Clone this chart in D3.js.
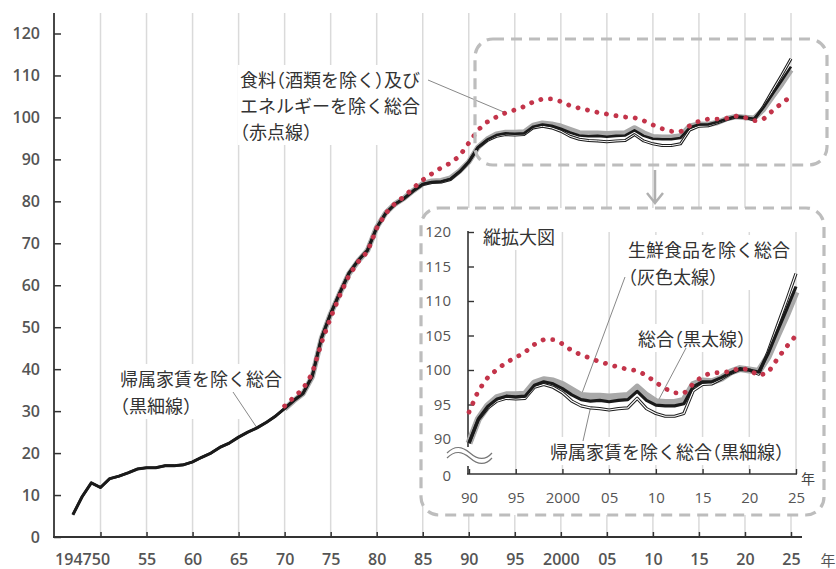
<!DOCTYPE html>
<html>
<head>
<meta charset="utf-8">
<script src="https://cdn.jsdelivr.net/npm/d3@7"></script>
<style>
  body { margin: 0; background: #fff; }
  svg { display: block; font-family: "Noto Sans CJK JP", "Noto Sans", sans-serif; }
  .num { font-family: "Open Sans", "Noto Sans", sans-serif; font-weight: 600; fill: #555; }
  .lbl { font-size: 18px; fill: #333; }
  .hp { font-feature-settings: "halt"; }
</style>
</head>
<body>
<svg id="chart" width="836" height="569"></svg>
<script>
// data: CPI (2020 = 100), annual
const years = [
  1947, 1948, 1949, 1950, 1951, 1952, 1953, 1954, 1955, 1956,
  1957, 1958, 1959, 1960, 1961, 1962, 1963, 1964, 1965, 1966,
  1967, 1968, 1969, 1970, 1971, 1972, 1973, 1974, 1975, 1976,
  1977, 1978, 1979, 1980, 1981, 1982, 1983, 1984, 1985, 1986,
  1987, 1988, 1989, 1990, 1991, 1992, 1993, 1994, 1995, 1996,
  1997, 1998, 1999, 2000, 2001, 2002, 2003, 2004, 2005, 2006,
  2007, 2008, 2009, 2010, 2011, 2012, 2013, 2014, 2015, 2016,
  2017, 2018, 2019, 2020, 2021, 2022, 2023, 2024, 2025
];
// 総合 (黒太線)
const sogo = [
  5.3, 9.6, 12.9, 11.8, 13.9, 14.5, 15.3, 16.2, 16.5, 16.5,
  17.0, 17.0, 17.2, 17.9, 19.0, 20.0, 21.4, 22.4, 23.8, 25.0,
  26.0, 27.3, 28.8, 30.7, 32.6, 34.3, 38.4, 47.5, 53.3, 58.3,
  63.0, 66.0, 68.4, 73.8, 77.3, 79.4, 80.8, 82.6, 84.1, 84.6,
  84.7, 85.3, 87.1, 89.4, 92.9, 94.7, 95.8, 96.2, 96.1, 96.2,
  97.8, 98.3, 98.0, 97.3, 96.4, 95.7, 95.5, 95.6, 95.4, 95.6,
  95.7, 96.9, 95.6, 94.9, 94.8, 94.8, 95.1, 97.6, 98.3, 98.3,
  98.9, 99.6, 100.2, 100.0, 99.7, 102.3, 105.6, 108.8, 112.1
];
// 帰属家賃を除く総合 (黒細線)
const exRent = [
  5.3, 9.6, 12.9, 11.8, 13.9, 14.5, 15.3, 16.2, 16.5, 16.5,
  17.0, 17.0, 17.2, 17.9, 19.0, 20.0, 21.4, 22.4, 23.8, 25.0,
  26.0, 27.3, 28.8, 30.6, 32.5, 34.2, 38.3, 47.4, 53.2, 58.2,
  62.9, 65.9, 68.3, 73.7, 77.2, 79.3, 80.7, 82.5, 84.0, 84.5,
  84.6, 85.2, 87.0, 89.4, 92.8, 94.5, 95.5, 95.9, 95.8, 95.9,
  97.5, 97.9, 97.5, 96.7, 95.5, 94.8, 94.5, 94.4, 94.2, 94.4,
  94.5, 95.9, 94.4, 93.7, 93.3, 93.3, 93.7, 97.0, 97.9, 98.0,
  98.7, 99.5, 100.1, 100.0, 99.4, 102.6, 106.4, 110.1, 114.0
];
// series below start in 1970
const years70 = years.filter(y => y >= 1970);
// 生鮮食品を除く総合 (灰色太線)
const exFresh = [
  30.5, 32.5, 34.2, 38.2, 47.3, 53.2, 58.1, 62.8, 65.8, 68.3,
  73.8, 77.3, 79.4, 80.8, 82.6, 84.2, 84.8, 84.9, 85.5, 87.2,
  89.4, 92.9, 94.8, 96.0, 96.4, 96.4, 96.5, 98.1, 98.6, 98.4,
  97.9, 97.1, 96.3, 96.2, 96.2, 96.1, 96.2, 96.3, 97.5, 96.3,
  95.4, 95.3, 95.3, 95.6, 97.9, 98.4, 98.3, 98.8, 99.7, 100.2,
  100.0, 99.8, 101.9, 105.0, 108.0, 111.3
];
// 食料(酒類を除く)及びエネルギーを除く総合 (赤点線)
const coreCore = [
  31.2, 33.3, 35.3, 39.0, 46.3, 52.3, 57.6, 62.4, 65.6, 68.0,
  73.6, 77.2, 79.5, 81.2, 83.2, 85.1, 86.6, 88.0, 89.1, 90.8,
  93.9, 97.0, 98.9, 100.1, 101.1, 101.8, 102.6, 103.7, 104.4, 104.4,
  103.8, 102.8, 102.2, 101.7, 101.2, 100.8, 100.4, 100.1, 99.9, 99.2,
  98.2, 97.3, 96.7, 96.6, 98.0, 99.1, 99.6, 99.6, 99.8, 100.3,
  100.0, 99.2, 99.6, 101.6, 103.4, 105.0
];

const yTicks = [0, 10, 20, 30, 40, 50, 60, 70, 80, 90, 100, 110, 120];
const xTickYears = [1947, 1950, 1955, 1960, 1965, 1970, 1975, 1980, 1985, 1990, 1995, 2000, 2005, 2010, 2015, 2020, 2025];
const xTickLabels = ["1947", "50", "55", "60", "65", "70", "75", "80", "85", "90", "95", "2000", "05", "10", "15", "20", "25"];
const gridYears = xTickYears.slice(1);
const insetYTicks = [90, 95, 100, 105, 110, 115, 120];
const insetXYears = [1990, 1995, 2000, 2005, 2010, 2015, 2020, 2025];
const insetXLabels = ["90", "95", "2000", "05", "10", "15", "20", "25"];

const svg = d3.select("#chart");

// main scales
const x = d3.scaleLinear().domain([1950, 2025]).range([100.5, 791]);
const y = d3.scaleLinear().domain([0, 120]).range([537, 33.5]);
// inset scales
const ix = d3.scaleLinear().domain([1990, 2025]).range([469, 796]);
const iy = d3.scaleLinear().domain([90, 120]).range([439, 232]);

const pts = (ys, vs) => ys.map((yr, i) => ({ yr: yr, v: vs[i] }));
const sSogo = pts(years, sogo);
const sRent = pts(years, exRent);
const sFresh = pts(years70, exFresh);
const sCore = pts(years70, coreCore);

function drawSeries(g, xs, ys, filt, w) {
  const line = d3.line().x(d => xs(d.yr)).y(d => ys(d.v));
  const f = arr => arr.filter(d => d.yr >= filt);
  g.append("path").attr("d", line(f(sFresh))).attr("fill", "none")
    .attr("stroke", "#a9a9a9").attr("stroke-width", w.gray).attr("stroke-linejoin", "round");
  g.append("path").attr("d", line(f(sRent))).attr("fill", "none")
    .attr("stroke", "#1e1e1e").attr("stroke-width", w.thin + 2).attr("stroke-linejoin", "round");
  g.append("path").attr("d", line(f(sRent))).attr("fill", "none")
    .attr("stroke", "#fff").attr("stroke-width", w.thin).attr("stroke-linejoin", "round");
  g.append("path").attr("d", line(f(sSogo))).attr("fill", "none")
    .attr("stroke", "#1a1a1a").attr("stroke-width", w.black).attr("stroke-linejoin", "round");
  g.append("path").attr("d", line(f(sCore))).attr("fill", "none")
    .attr("stroke", "#c3344a").attr("stroke-width", 4.8)
    .attr("stroke-linecap", "round").attr("stroke-dasharray", "0.1 9.6");
}

// text with white backing; full-width brackets drawn half width
function label(g, lines) {
  const grp = g.append("g");
  lines.forEach(l => {
    const t = grp.append("text").attr("class", "lbl").attr("x", l[1]).attr("y", l[2]);
    l[0].split(/([（）])/).filter(s => s.length).forEach(s => {
      t.append("tspan").attr("class", /[（）]/.test(s) ? "hp" : null).text(s);
    });
  });
  const b = grp.node().getBBox();
  grp.insert("rect", "text").attr("x", b.x - 2).attr("y", b.y - 1)
    .attr("width", b.width + 4).attr("height", b.height + 2).attr("fill", "#fff");
  return grp;
}

// ---- main chart ----
const main = svg.append("g");
main.selectAll(".grid").data(gridYears).join("line")
  .attr("x1", d => x(d)).attr("x2", d => x(d)).attr("y1", 13).attr("y2", 537)
  .attr("stroke", "#dadada").attr("stroke-width", 1.5);

const yAxis = main.append("g").attr("transform", "translate(54,0)")
  .call(d3.axisLeft(y).tickValues(yTicks).tickSizeInner(-7).tickSizeOuter(0).tickPadding(14));
yAxis.select(".domain").remove();
yAxis.selectAll("line").attr("stroke", "#333").attr("stroke-width", 1.5);
yAxis.selectAll("text").attr("class", "num").style("font-size", "16px");
main.append("line").attr("x1", 54).attr("x2", 54).attr("y1", 13).attr("y2", 538)
  .attr("stroke", "#333").attr("stroke-width", 1.8);

const xAxis = main.append("g").attr("transform", "translate(0,537)")
  .call(d3.axisBottom(x).tickValues(xTickYears).tickFormat((d, i) => xTickLabels[i])
    .tickSizeInner(-5).tickSizeOuter(0).tickPadding(17));
xAxis.select(".domain").remove();
xAxis.selectAll(".tick").filter(d => d === 1947).select("line").remove();
xAxis.selectAll("line").attr("stroke", "#333").attr("stroke-width", 1.5);
xAxis.selectAll("text").attr("class", "num").style("font-size", "16px");
main.append("line").attr("x1", 53).attr("x2", 802).attr("y1", 537).attr("y2", 537)
  .attr("stroke", "#333").attr("stroke-width", 1.8);
main.append("text").attr("x", 828).attr("y", 566)
  .attr("text-anchor", "middle").style("font-size", "15px").attr("fill", "#555").text("年");

// annotations (main)
label(main, [
  ["食料（酒類を除く）及び", 240, 87],
  ["エネルギーを除く総合", 240, 113],
  ["（赤点線）", 240, 139]
]);
label(main, [
  ["帰属家賃を除く総合", 120, 386],
  ["（黒細線）", 120, 413]
]);
main.append("line").attr("x1", 428).attr("y1", 80).attr("x2", x(1994)).attr("y2", y(coreCore[24]))
  .attr("stroke", "#888").attr("stroke-width", 1);
main.append("line").attr("x1", 233).attr("y1", 392).attr("x2", x(1967)).attr("y2", y(exRent[20]))
  .attr("stroke", "#888").attr("stroke-width", 1);

drawSeries(main.append("g"), x, y, 1947, { gray: 5.5, black: 2.6, thin: 1 });

// upper dashed box and arrow
svg.append("rect").attr("x", 475).attr("y", 39).attr("width", 352).attr("height", 126).attr("rx", 18)
  .attr("fill", "none").attr("stroke", "#bdbdbd").attr("stroke-width", 3.2).attr("stroke-dasharray", "11 7");
svg.append("path").attr("d", "M655,170 V203 M647,193 L655,203 L663,193")
  .attr("fill", "none").attr("stroke", "#b0b0b0").attr("stroke-width", 2.5);

// ---- inset ----
const inset = svg.append("g");
inset.append("rect").attr("x", 421).attr("y", 208).attr("width", 403).attr("height", 307).attr("rx", 18)
  .attr("fill", "#fff").attr("stroke", "#bdbdbd").attr("stroke-width", 3.2).attr("stroke-dasharray", "11 7");

inset.selectAll(".igrid").data(insetXYears.slice(1)).join("line")
  .attr("x1", d => ix(d)).attr("x2", d => ix(d)).attr("y1", 232).attr("y2", 474)
  .attr("stroke", "#dadada").attr("stroke-width", 1.5);

const iyAxis = inset.append("g").attr("transform", "translate(468,0)")
  .call(d3.axisLeft(iy).tickValues(insetYTicks).tickSizeInner(-6).tickSizeOuter(0).tickPadding(17));
iyAxis.select(".domain").remove();
iyAxis.selectAll("line").attr("stroke", "#333").attr("stroke-width", 1.4);
iyAxis.selectAll("text").attr("class", "num").style("font-size", "15px").style("font-weight", 400);
inset.append("text").attr("class", "num").attr("x", 451).attr("y", 476).attr("dy", "0.32em")
  .attr("text-anchor", "end").style("font-size", "15px").style("font-weight", 400).text("0");
inset.append("line").attr("x1", 468).attr("x2", 468).attr("y1", 231).attr("y2", 447)
  .attr("stroke", "#333").attr("stroke-width", 1.6);
inset.append("line").attr("x1", 468).attr("x2", 468).attr("y1", 466).attr("y2", 474)
  .attr("stroke", "#333").attr("stroke-width", 1.6);
// axis break
[0, 5].forEach(o => {
  inset.append("path")
    .attr("d", `M447,${453 + o} C455,${445 + o} 462,${446 + o} 470,${453 + o} S485,${461 + o} 492,${453 + o}`)
    .attr("fill", "none").attr("stroke", "#777").attr("stroke-width", 1.2);
});

const ixAxis = inset.append("g").attr("transform", "translate(0,474)")
  .call(d3.axisBottom(ix).tickValues(insetXYears).tickFormat((d, i) => insetXLabels[i])
    .tickSizeInner(-5).tickSizeOuter(0).tickPadding(18));
ixAxis.select(".domain").remove();
ixAxis.selectAll("line").attr("stroke", "#333").attr("stroke-width", 1.4);
ixAxis.selectAll("text").attr("class", "num").style("font-size", "15px").style("font-weight", 400);
inset.append("line").attr("x1", 467).attr("x2", 797).attr("y1", 474).attr("y2", 474)
  .attr("stroke", "#333").attr("stroke-width", 1.6);
inset.append("text").attr("x", 808).attr("y", 484).attr("text-anchor", "middle")
  .style("font-size", "14px").attr("fill", "#444").text("年");

label(inset, [["縦拡大図", 483, 244]]);
label(inset, [
  ["生鮮食品を除く総合", 628, 257],
  ["（灰色太線）", 628, 284]
]);
label(inset, [["総合（黒太線）", 638, 346]]);
label(inset, [["帰属家賃を除く総合（黒細線）", 550, 459]]);

inset.append("line").attr("x1", 625).attr("y1", 277).attr("x2", ix(2002)).attr("y2", iy(exFresh[32]))
  .attr("stroke", "#888").attr("stroke-width", 1);
inset.append("line").attr("x1", 686).attr("y1", 348).attr("x2", ix(2010)).attr("y2", iy(sogo[63]))
  .attr("stroke", "#888").attr("stroke-width", 1);
inset.append("line").attr("x1", 583).attr("y1", 441).attr("x2", ix(2003)).attr("y2", iy(exRent[56]))
  .attr("stroke", "#888").attr("stroke-width", 1);

drawSeries(inset.append("g"), ix, iy, 1990, { gray: 7, black: 3.2, thin: 1.2 });
</script>
</body>
</html>
